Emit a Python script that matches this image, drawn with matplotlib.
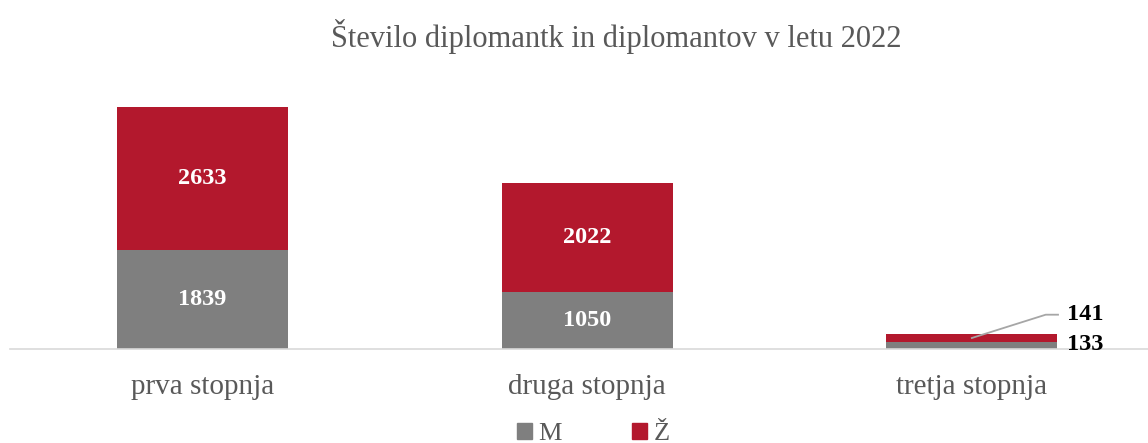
import numpy as np
import matplotlib
matplotlib.use("Agg")
from matplotlib import pyplot as plt
from matplotlib.patches import Patch

categories = ["prva stopnja", "druga stopnja", "tretja stopnja"]
moski = [1839, 1050, 133]
zenske = [2633, 2022, 141]
series_names = ["M", "Ž"]

GRAY = "#7f7f7f"
RED = "#b3182d"
TEXT = "#595959"

plt.rcParams["font.family"] = ["Liberation Serif", "DejaVu Serif"]

fig = plt.figure(figsize=(11.48, 4.43), dpi=100)
ax = fig.add_axes([10 / 1148, 94 / 443, 1138 / 1148, 270.5 / 443])

x = np.arange(len(categories))
width = 0.445
ax.bar(x, moski, width, color=GRAY, label=series_names[0])
ax.bar(x, zenske, width, bottom=moski, color=RED, label=series_names[1])

ax.set_xlim(-0.501, 2.458)
ax.set_ylim(0, 5000)

# labels inside the big bars
for i in range(2):
    ax.text(x[i], moski[i] / 2, str(moski[i]), ha="center", va="center",
            color="white", fontsize=17.5, fontweight="bold")
    ax.text(x[i], moski[i] + zenske[i] / 2, str(zenske[i]), ha="center", va="center",
            color="white", fontsize=17.5, fontweight="bold")

# small bar: labels outside with a leader line
i = 2
ax.text(x[i] + width / 2 + 0.025, moski[i] / 2 + 20, str(moski[i]), ha="left", va="center",
        color="black", fontsize=17.5, fontweight="bold")
top_y = moski[i] + zenske[i] / 2
lbl_y = moski[i] + zenske[i] + 360
ax.plot([x[i], x[i] + 0.192, x[i] + 0.224], [top_y, lbl_y, lbl_y],
        color="#a6a6a6", lw=1.3, clip_on=False)
ax.text(x[i] + width / 2 + 0.025, lbl_y, str(zenske[i]), ha="left", va="center",
        color="black", fontsize=17.5, fontweight="bold")

ax.set_xticks(x)
ax.set_xticklabels(categories, fontsize=21, color=TEXT)
ax.tick_params(axis="x", length=0, pad=18)
ax.set_yticks([])
for side in ["top", "right", "left"]:
    ax.spines[side].set_visible(False)
ax.spines["bottom"].set_color("#d9d9d9")
ax.spines["bottom"].set_linewidth(1.2)

fig.text(616 / 1148, 1 - 36 / 443, "Število diplomantk in diplomantov v letu 2022",
         ha="center", va="center", fontsize=22, color=TEXT)

handles = [Patch(color=GRAY, label=series_names[0]), Patch(color=RED, label=series_names[1])]
fig.legend(handles=handles, loc="center", bbox_to_anchor=(593 / 1148, 1 - 434 / 443),
           ncol=2, frameon=False, fontsize=19, handlelength=0.57, handleheight=0.57,
           handletextpad=0.25, columnspacing=2.65, labelcolor=TEXT)

fig.savefig("out.png", dpi=100)
